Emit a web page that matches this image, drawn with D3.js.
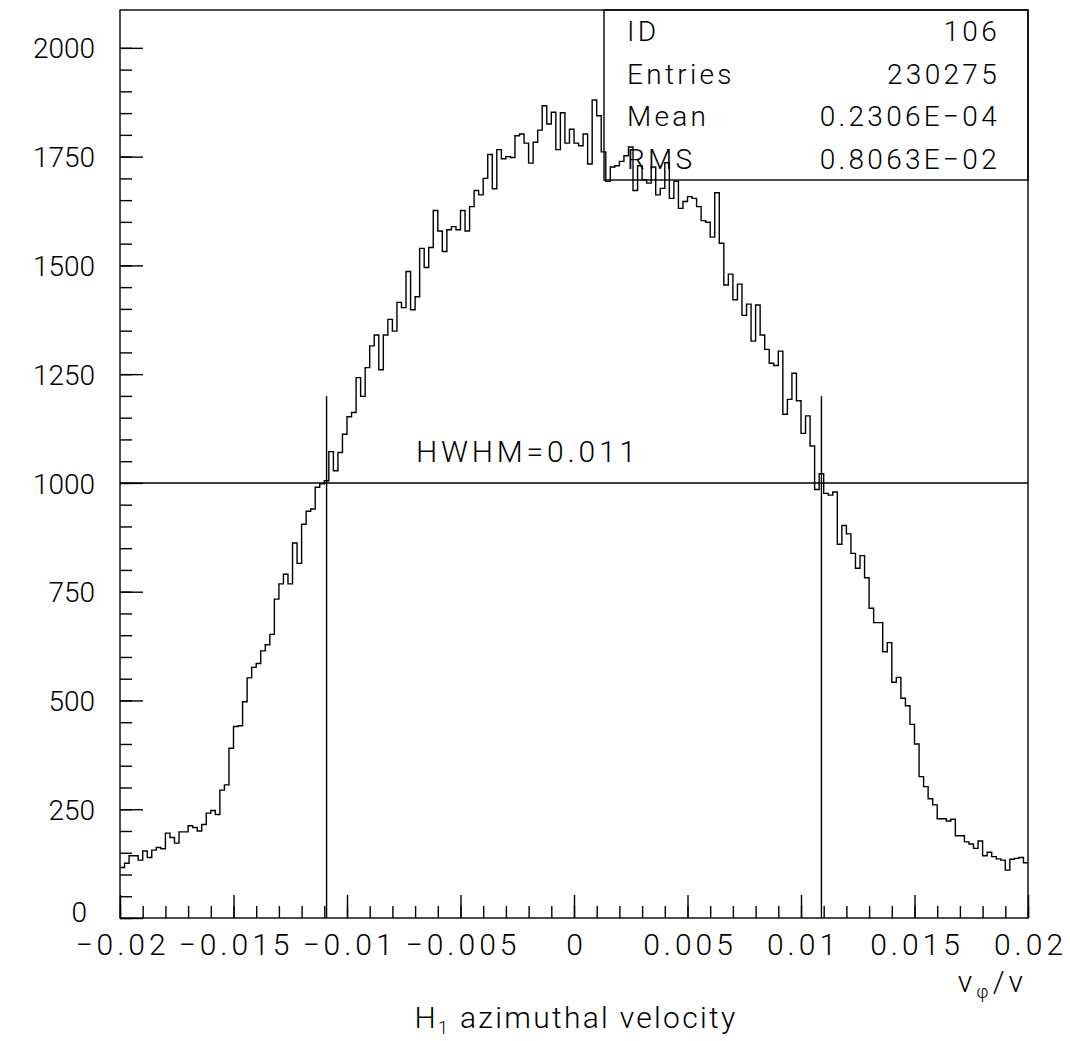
<!DOCTYPE html>
<html>
<head>
<meta charset="utf-8">
<script src="https://cdn.jsdelivr.net/npm/d3@7"></script>
<style>
  body { margin: 0; background: #fff; }
  text { font-family: Roboto, "DejaVu Sans", sans-serif; font-weight: 300; fill: #000; }
</style>
</head>
<body>
<svg id="chart" width="1070" height="1041"></svg>
<script>
// Histogram 106: counts per bin, 200 bins over [-0.02, 0.02]
const counts = [
  116,126,143,143,133,154,139,156,162,159,
  195,185,172,198,198,212,208,200,215,241,
  247,238,294,306,390,440,442,497,552,576,
  585,614,628,652,733,768,790,768,862,815,
  905,935,940,990,998,1005,1072,1028,1070,1112,
  1152,1162,1242,1199,1265,1315,1340,1260,1340,1376,
  1349,1415,1403,1486,1398,1428,1539,1495,1541,1626,
  1579,1532,1582,1589,1582,1626,1579,1635,1672,1662,
  1700,1755,1676,1766,1745,1750,1748,1798,1802,1781,
  1735,1783,1811,1867,1825,1852,1766,1851,1781,1813,
  1781,1775,1802,1733,1880,1844,1761,1693,1726,1729,
  1739,1752,1772,1672,1729,1697,1689,1726,1662,1677,
  1736,1654,1693,1631,1647,1658,1654,1635,1603,1599,
  1565,1667,1551,1455,1480,1421,1457,1385,1411,1326,
  1409,1340,1307,1275,1270,1303,1158,1192,1252,1189,
  1114,1154,1085,985,1021,976,972,979,859,902,
  883,838,804,833,782,712,679,679,612,633,
  542,553,505,488,445,400,325,302,274,260,
  228,228,223,227,189,189,175,170,160,177,
  143,151,141,136,133,110,135,137,139,127
];
const xRange = [-0.02, 0.02];
const yMax = 2087;

const xMajorTicks = [-0.02, -0.015, -0.01, -0.005, 0, 0.005, 0.01, 0.015, 0.02];
const xTickLabels = ["\u22120.02", "\u22120.015", "\u22120.01", "\u22120.005", "0", "0.005", "0.01", "0.015", "0.02"];
const xMinorStep = 0.001;
const yMajorTicks = [0, 250, 500, 750, 1000, 1250, 1500, 1750, 2000];
const yMinorStep = 50;

const statLabels = ["ID", "Entries", "Mean", "RMS"];
const statValues = ["106", "230275", "0.2306E\u221204", "0.8063E\u221202"];

// Half width at half maximum markers
const halfWidth = 0.0109;
const halfLevel = 1000;
const markerTop = 1200;

const xTitle = "azimuthal velocity";

const svg = d3.select("#chart");
const L = 120, R = 1028, T = 10, B = 918;

const x = d3.scaleLinear().domain(xRange).range([L, R]);
const y = d3.scaleLinear().domain([0, yMax]).range([B, T]);
const binW = (xRange[1] - xRange[0]) / counts.length;

const stroke = "#000";
const lw = 1.4;

// Frame
svg.append("rect")
  .attr("x", L).attr("y", T).attr("width", R - L).attr("height", B - T)
  .attr("fill", "none").attr("stroke", stroke).attr("stroke-width", lw);

// Axes: ticks point into the plot area
const xMinor = d3.range(Math.round((xRange[1] - xRange[0]) / xMinorStep) + 1).map(i => xRange[0] + i * xMinorStep);
const yMinor = d3.range(0, 2001, yMinorStep);

function styleAxis(g) {
  g.select(".domain").remove();
  g.selectAll("line").attr("stroke", stroke).attr("stroke-width", lw);
}

svg.append("g").attr("transform", `translate(0,${B})`)
  .call(d3.axisBottom(x).tickValues(xMinor).tickSize(-12).tickFormat(""))
  .call(styleAxis);
svg.append("g").attr("transform", `translate(0,${B})`)
  .call(d3.axisBottom(x).tickValues(xMajorTicks).tickSize(-23).tickPadding(0)
    .tickFormat((d, i) => xTickLabels[i]))
  .call(styleAxis)
  .call(g => g.selectAll("text").attr("y", 37).attr("dy", 0).attr("x", 2)
    .style("font-size", "30px").style("letter-spacing", "4px")
    .style("font-family", "Roboto, sans-serif").style("font-weight", 300));

svg.append("g").attr("transform", `translate(${L},0)`)
  .call(d3.axisLeft(y).tickValues(yMinor).tickSize(-12).tickFormat(""))
  .call(styleAxis);
svg.append("g").attr("transform", `translate(${L},0)`)
  .call(d3.axisLeft(y).tickValues(yMajorTicks).tickSize(-23).tickPadding(0).tickFormat(d3.format("d")))
  .call(styleAxis)
  .call(g => g.selectAll("text")
    .attr("x", d => d === 0 ? -33 : -25)
    .attr("dy", d => d === 0 ? "0.14em" : "0.36em")
    .style("font-size", "28px").style("font-family", "Roboto, sans-serif").style("font-weight", 300));

// Histogram outline
const pts = [];
counts.forEach((c, i) => {
  const x0 = xRange[0] + i * binW, x1 = x0 + binW;
  pts.push([x(x0), y(c)], [x(x1), y(c)]);
});
svg.append("path")
  .attr("d", d3.line()(pts))
  .attr("fill", "none").attr("stroke", stroke).attr("stroke-width", lw);

// HWHM markers
svg.append("line")
  .attr("x1", L).attr("x2", R).attr("y1", y(halfLevel)).attr("y2", y(halfLevel))
  .attr("stroke", stroke).attr("stroke-width", lw);
[-halfWidth, halfWidth].forEach(v => {
  svg.append("line")
    .attr("x1", x(v)).attr("x2", x(v)).attr("y1", y(0)).attr("y2", y(markerTop))
    .attr("stroke", stroke).attr("stroke-width", lw);
});
svg.append("text")
  .attr("x", x(-0.00696)).attr("y", y(1048))
  .attr("textLength", 220).attr("lengthAdjust", "spacing")
  .style("font-size", "30px")
  .text("HWHM=" + halfWidth.toFixed(3));

// Statistics box
const boxL = 604, boxB = 180;
svg.append("rect")
  .attr("x", boxL).attr("y", T).attr("width", R - boxL).attr("height", boxB - T)
  .attr("fill", "none").attr("stroke", stroke).attr("stroke-width", lw);
const rowH = (boxB - T) / statLabels.length;
statLabels.forEach((s, i) => {
  const by = T + rowH * i + rowH / 2 + 10;
  svg.append("text").attr("x", 627).attr("y", by)
    .style("font-size", "28px").style("letter-spacing", "3.3px").text(s);
  svg.append("text").attr("x", 1000).attr("y", by).attr("text-anchor", "end")
    .style("font-size", "28px").style("letter-spacing", "3.3px").text(statValues[i]);
});

// Axis titles
const vt = svg.append("text").attr("x", 1027).attr("y", 992).attr("text-anchor", "end")
  .style("font-size", "30px").style("letter-spacing", "4px");
vt.append("tspan").text("v");
vt.append("tspan").attr("dy", 6).style("font-size", "18px").text("\u03c6");
vt.append("tspan").attr("dy", -6).text("/v");

const ht = svg.append("text").attr("x", 576).attr("y", 1028).attr("text-anchor", "middle")
  .style("font-size", "30px").style("letter-spacing", "2.3px");
ht.append("tspan").text("H");
ht.append("tspan").attr("dy", 6).style("font-size", "18px").text("1");
ht.append("tspan").attr("dy", -6).text(" " + xTitle);
</script>
</body>
</html>
